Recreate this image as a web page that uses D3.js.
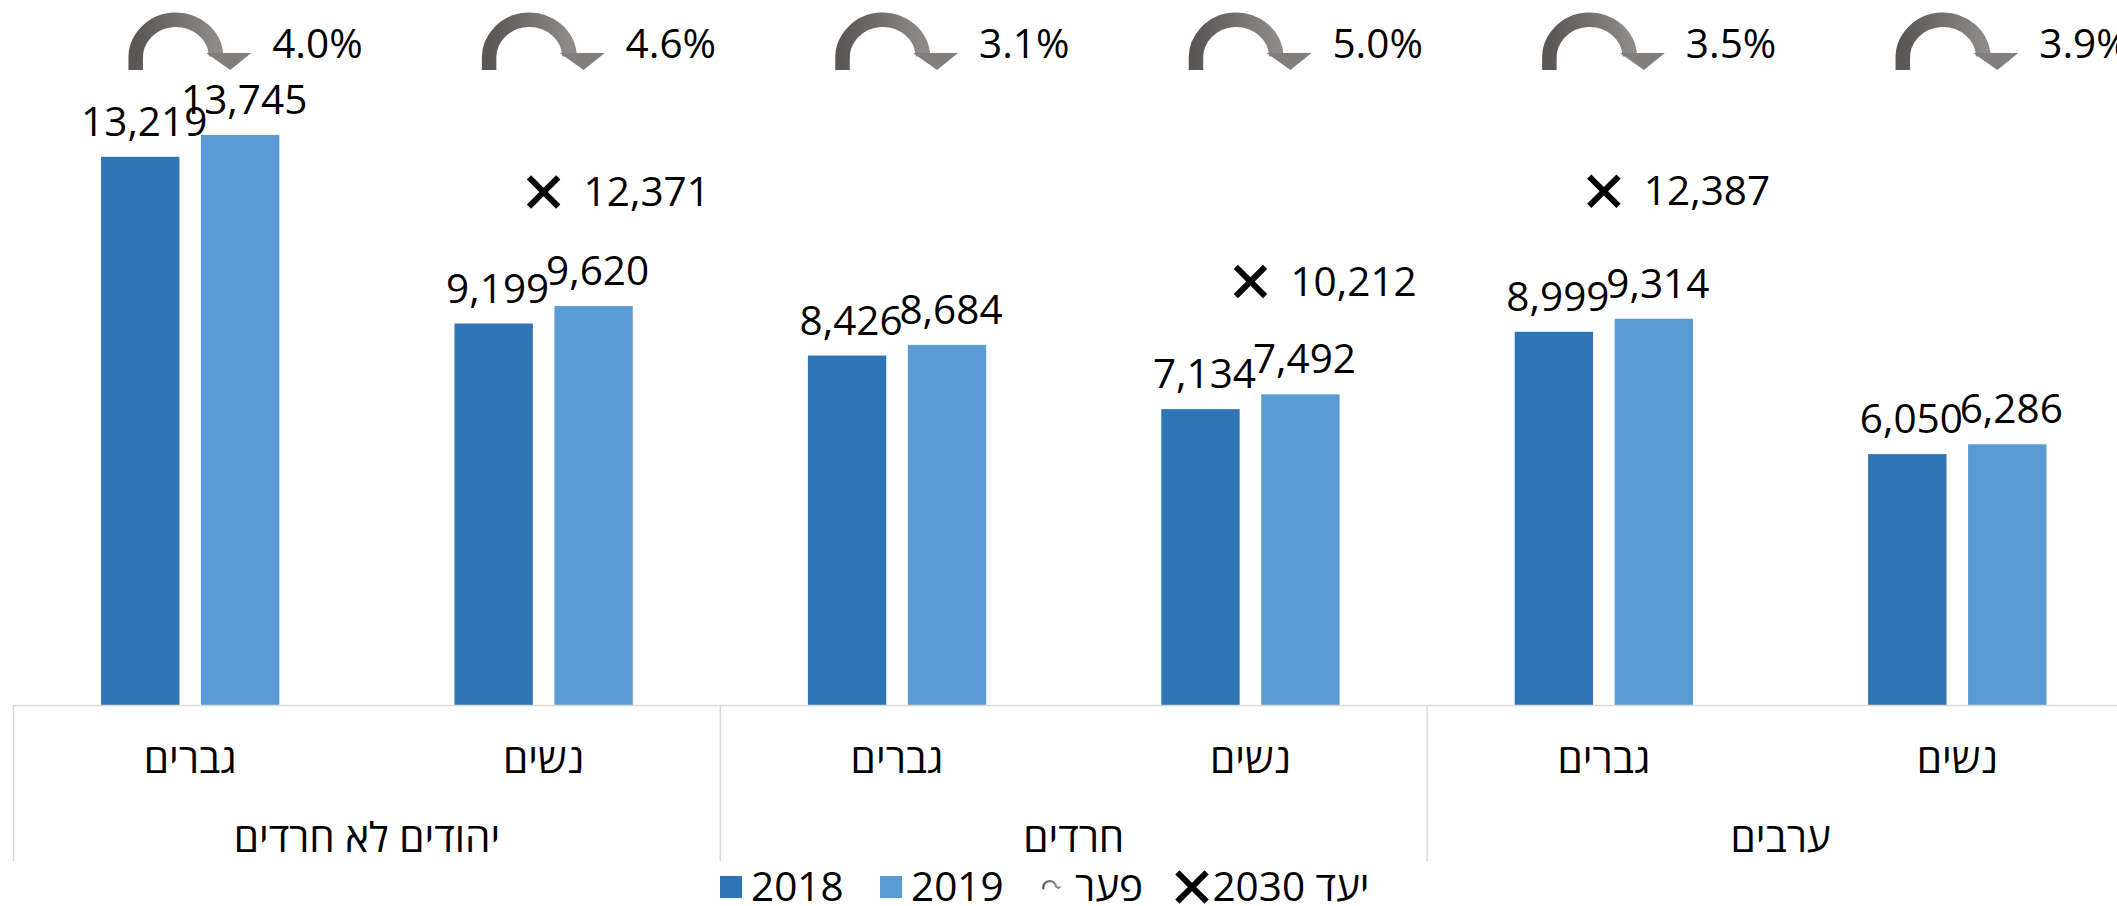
<!DOCTYPE html>
<html>
<head>
<meta charset="utf-8">
<script src="https://cdn.jsdelivr.net/npm/d3@7"></script>
<style>
  body { margin: 0; background: #fff; }
  text { font-family: "Open Sans", "Liberation Sans", "DejaVu Sans", sans-serif; fill: #000; }
</style>
</head>
<body>
<script>
// groups and sub categories (left to right as drawn)
var groups = ["יהודים לא חרדים", "חרדים", "ערבים"];
var genders = ["גברים", "נשים"];
var years = ["2018", "2019"];

// wages per sub category, in drawing order
var values2018 = [13219, 9199, 8426, 7134, 8999, 6050];
var values2019 = [13745, 9620, 8684, 7492, 9314, 6286];
var target2030 = [null, 12371, null, 10212, 12387, null];
var gapLabels = ["4.0%", "4.6%", "3.1%", "5.0%", "3.5%", "3.9%"];

var width = 2117, height = 906;
var baseY = 705;
var colors = {"2018": "#2E75B6", "2019": "#5B9BD5"};
var fontSize = 40.5;

var svg = d3.select("body").append("svg")
    .attr("width", width)
    .attr("height", height);

var defs = svg.append("defs");
var grad = defs.append("linearGradient").attr("id", "gapGrad")
    .attr("x1", "0%").attr("x2", "100%").attr("y1", "0%").attr("y2", "0%");
grad.append("stop").attr("offset", "0%").attr("stop-color", "#5a5656");
grad.append("stop").attr("offset", "100%").attr("stop-color", "#8e8a8a");

// scales
var xGroup = d3.scaleBand().domain(groups).range([13.5, 2134]);
var xSub = d3.scaleBand().domain(d3.range(6)).range([13.5, 2134]);
var xYear = d3.scaleBand().domain(years).range([0, xSub.bandwidth()])
    .paddingInner(0.216).paddingOuter(0.876);
var y = d3.scaleLinear().domain([0, 17000]).range([baseY, 0]);

var rows = d3.range(6).map(function(i) {
  return {i: i, "2018": values2018[i], "2019": values2019[i], target: target2030[i], gap: gapLabels[i]};
});

// bars
var sub = svg.selectAll("g.sub").data(rows).enter().append("g")
    .attr("class", "sub")
    .attr("transform", function(d) { return "translate(" + xSub(d.i) + ",0)"; });

sub.selectAll("rect").data(function(d) {
    return years.map(function(yr) { return {year: yr, value: d[yr]}; });
  })
  .enter().append("rect")
    .attr("x", function(d) { return xYear(d.year); })
    .attr("y", function(d) { return y(d.value); })
    .attr("width", xYear.bandwidth())
    .attr("height", function(d) { return baseY - y(d.value); })
    .attr("fill", function(d) { return colors[d.year]; });

// value labels
sub.selectAll("text.val").data(function(d) {
    return years.map(function(yr) { return {year: yr, value: d[yr]}; });
  })
  .enter().append("text")
    .attr("class", "val")
    .attr("x", function(d) { return xYear(d.year) + xYear.bandwidth() / 2 + 4; })
    .attr("y", function(d) { return y(d.value) - 21; })
    .attr("text-anchor", "middle")
    .style("font-size", fontSize + "px")
    .text(function(d) { return d3.format(",")(d.value); });

// 2030 targets
var tg = sub.filter(function(d) { return d.target != null; });
tg.append("path")
    .attr("d", d3.symbol(d3.symbolX, 560))
    .attr("transform", function(d) { return "translate(" + xSub.bandwidth() / 2 + "," + y(d.target) + ")"; })
    .attr("stroke", "#000")
    .attr("stroke-width", 6)
    .attr("fill", "none");
tg.append("text")
    .attr("x", xSub.bandwidth() / 2 + 40)
    .attr("y", function(d) { return y(d.target) + 14; })
    .style("font-size", fontSize + "px")
    .text(function(d) { return d3.format(",")(d.target); });

// gap arrow drawn around (0,0) = band center, top of chart
function gapArrow(g) {
  g.append("path")
    .attr("d", "M-54.5,70 L-54.5,60 A40,38 0 0 1 26,56")
    .attr("fill", "none")
    .attr("stroke", "url(#gapGrad)")
    .attr("stroke-width", 14.5);
  g.append("path")
    .attr("d", "M16,53 L61,53 L40,70 Z")
    .attr("fill", "#827e7e");
}

var arrows = sub.append("g")
    .attr("transform", "translate(" + xSub.bandwidth() / 2 + ",0)");
arrows.each(function() { gapArrow(d3.select(this)); });

sub.append("text")
    .attr("x", xSub.bandwidth() / 2 + 82)
    .attr("y", 58)
    .style("font-size", fontSize + "px")
    .text(function(d) { return d.gap; });

// category axis
svg.append("line")
    .attr("x1", 13.5).attr("x2", width)
    .attr("y1", baseY + 0.5).attr("y2", baseY + 0.5)
    .attr("stroke", "#d9d9d9").attr("stroke-width", 1.5);

var bounds = groups.map(function(g) { return xGroup(g); }).concat([xGroup.range()[1]]);
svg.selectAll("line.sep").data(bounds).enter().append("line")
    .attr("class", "sep")
    .attr("x1", function(d) { return d; }).attr("x2", function(d) { return d; })
    .attr("y1", baseY).attr("y2", 861)
    .attr("stroke", "#d9d9d9").attr("stroke-width", 1.5);

var subAxis = svg.append("g")
    .attr("transform", "translate(0," + baseY + ")")
    .call(d3.axisBottom(xSub).tickSize(0).tickPadding(0)
      .tickFormat(function(i) { return genders[i % 2]; }));
subAxis.select(".domain").remove();
subAxis.selectAll("text")
    .attr("y", 68).attr("dy", null)
    .style("font-size", fontSize + "px")
    .attr("font-family", null);

svg.selectAll("text.grp").data(groups).enter().append("text")
    .attr("class", "grp")
    .attr("x", function(d) { return xGroup(d) + xGroup.bandwidth() / 2; })
    .attr("y", 852)
    .attr("text-anchor", "middle")
    .style("font-size", fontSize + "px")
    .text(function(d) { return d; });

// legend
var legend = svg.append("g");
var legY = 887;
years.forEach(function(yr, k) {
  var lx = [720, 880][k];
  legend.append("rect")
    .attr("x", lx).attr("y", legY - 11).attr("width", 22).attr("height", 22)
    .attr("fill", colors[yr]);
  legend.append("text")
    .attr("x", lx + 31).attr("y", legY + 14)
    .style("font-size", fontSize + "px")
    .text(yr);
});
var legGap = legend.append("g")
    .attr("transform", "translate(1052," + (legY - 9) + ") scale(0.16)");
gapArrow(legGap);
legend.append("text")
    .attr("x", 1109).attr("y", legY + 14)
    .attr("text-anchor", "middle")
    .style("font-size", fontSize + "px")
    .text("פער");
legend.append("path")
    .attr("d", d3.symbol(d3.symbolX, 560))
    .attr("transform", "translate(1192," + legY + ")")
    .attr("stroke", "#000").attr("stroke-width", 6).attr("fill", "none");
legend.append("text")
    .attr("x", 1291).attr("y", legY + 14)
    .attr("text-anchor", "middle")
    .attr("direction", "rtl")
    .style("font-size", fontSize + "px")
    .text("יעד 2030");
</script>
</body>
</html>
